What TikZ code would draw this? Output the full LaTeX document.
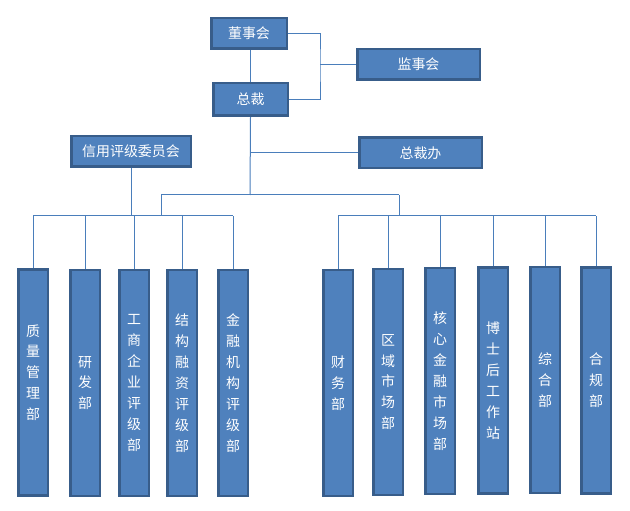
\documentclass[tikz,border=0pt]{standalone}
\usepackage{fontspec}
\newfontfamily\cjk{Noto Sans CJK SC}
\usetikzlibrary{backgrounds}
\definecolor{boxfill}{HTML}{4F81BD}
\definecolor{boxline}{HTML}{385D8A}
\definecolor{linkline}{HTML}{4A7EBB}
\tikzset{
  basic/.style  = {draw=boxline, line width=2.5bp, fill=boxfill, text=white,
                   font=\cjk\fontsize{14}{21}\selectfont, rectangle, inner sep=0pt},
  office/.style = {basic, align=center, minimum height=30.5bp},
  dept/.style   = {basic, align=center, minimum width=29.5bp, minimum height=226bp},
  link/.style   = {draw=linkline, line width=1bp}
}

\begin{document}
\begin{tikzpicture}[x=1bp, y=-1bp]
\useasboundingbox (0,0) rectangle (630,511);

% top level offices
\node[office, minimum width=75.5bp] (board) at (249,33.5) {董事会};
\node[office, minimum width=122.5bp] (supervisor) at (418.5,64.5) {监事会};
\node[office, minimum width=74.5bp, minimum height=32.5bp] (president) at (250.5,99.5) {总裁};
\node[office, minimum width=119.5bp] (credit) at (131,151.5) {信用评级委员会};
\node[office, minimum width=122.5bp] (office) at (420.5,153) {总裁办};

% departments, left group
\node[dept] (quality) at (33,382.5) {质\\量\\管\\理\\部\\~};
\node[dept] (research) at (85,383) {研\\发\\部};
\node[dept] (business) at (134,383) {工\\商\\企\\业\\评\\级\\部};
\node[dept] (structured) at (182,383) {结\\构\\融\\资\\评\\级\\部};
\node[dept] (institution) at (233,383) {金\\融\\机\\构\\评\\级\\部};

% departments, right group
\node[dept] (finance) at (338,383) {财\\务\\部};
\node[dept] (regional) at (388,382) {区\\域\\市\\场\\部};
\node[dept] (core) at (440,381) {核\\心\\金\\融\\市\\场\\部};
\node[dept] (postdoc) at (493,380.5) {博\\士\\后\\工\\作\\站};
\node[dept] (general) at (545,380) {综\\合\\部};
\node[dept] (compliance) at (596,380.5) {合\\规\\部};

% junctions
\coordinate (sv) at (320,64.5);
\coordinate (hub) at (250,195);
\coordinate (lt) at (161,195);
\coordinate (rt) at (399,195);
\coordinate (lbar) at (161,216);
\coordinate (rbar) at (399,216);

\begin{scope}[on background layer]
\draw[link] (board.east) -| (sv) |- (president.east);
\draw[link] (sv) -- (supervisor.west);
\draw[link] (board.south) -- (president.south |- board.south) -- (president.north);
\draw[link] (president.south) -- (hub);
\draw[link] (president.south |- office.west) -- (office.west);
\draw[link] (lt) -- (rt);
\draw[link] (lt) -- (lbar);
\draw[link] (rt) -- (rbar);
\draw[link] (credit.south) -- (credit.south |- lbar);
\draw[link] (quality.north |- lbar) -- (institution.north |- lbar);
\draw[link] (finance.north |- rbar) -- (compliance.north |- rbar);
\foreach \d in {quality,research,business,structured,institution}
  \draw[link] (\d.north) -- (\d.north |- lbar);
\foreach \d in {finance,regional,core,postdoc,general,compliance}
  \draw[link] (\d.north) -- (\d.north |- rbar);
\end{scope}

\end{tikzpicture}
\end{document}
